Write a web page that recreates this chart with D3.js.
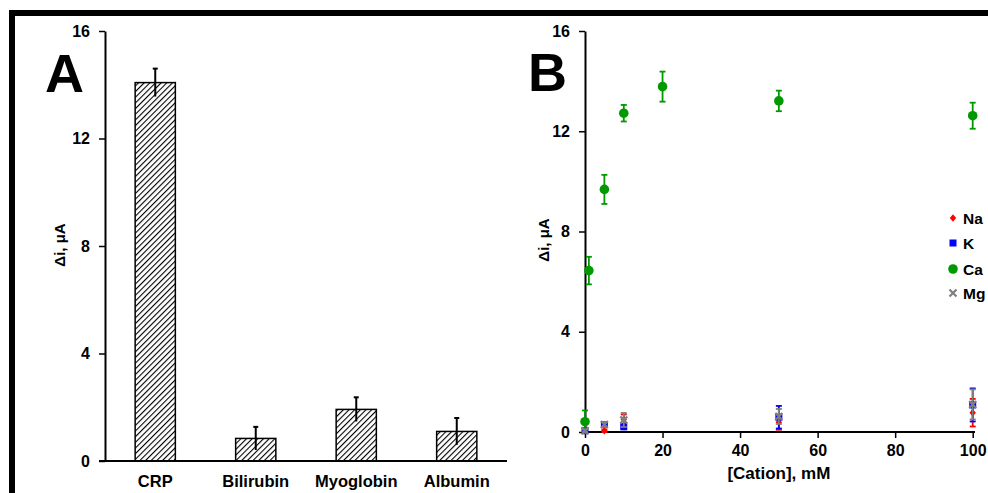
<!DOCTYPE html>
<html><head><meta charset="utf-8">
<script src="https://cdn.jsdelivr.net/npm/d3@7"></script>
<style>
html,body{margin:0;padding:0;background:#fff;}
svg{display:block;font-family:"Liberation Sans",Arial,sans-serif;font-weight:bold;}
</style></head>
<body>
<svg id="chart" width="988" height="493"></svg>
<script>
// ---- Panel A data ----
const categories = ["CRP", "Bilirubin", "Myoglobin", "Albumin"];
const barValues = [14.08, 0.84, 1.92, 1.10];
const barErrors = [0.52, 0.43, 0.45, 0.50];
const yTicksA = [0, 4, 8, 12, 16];

// ---- Panel B data ----
const cations = ["Na", "K", "Ca", "Mg"];
const cationColors = ["#ff0000", "#0000ff", "#009900", "#7f7f7f"];
const concNa = [0, 5, 10, 50, 100];
const valNa = [0.05, 0.05, 0.50, 0.39, 0.77];
const errNa = [0.05, 0.05, 0.2, 0.3, 0.55];
const concK = [0, 5, 10, 50, 100];
const valK = [0.05, 0.30, 0.21, 0.59, 1.08];
const errK = [0.05, 0.1, 0.1, 0.45, 0.66];
const concCa = [0, 1, 5, 10, 20, 50, 100];
const valCa = [0.41, 6.44, 9.68, 12.72, 13.78, 13.21, 12.62];
const errCa = [0.45, 0.55, 0.58, 0.33, 0.60, 0.41, 0.52];
const concMg = [0, 5, 10, 50, 100];
const valMg = [0.05, 0.30, 0.48, 0.62, 1.10];
const errMg = [0.05, 0.1, 0.28, 0.3, 0.6];
const xTicksB = [0, 20, 40, 60, 80, 100];
const yTicksB = [0, 4, 8, 12, 16];

const svg = d3.select("#chart");

// Hatch pattern
const defs = svg.append("defs");
defs.append("pattern").attr("id", "hatch").attr("patternUnits", "userSpaceOnUse")
  .attr("width", 4).attr("height", 4).attr("patternTransform", "rotate(45)")
  .call(p => {
    p.append("rect").attr("width", 4).attr("height", 4).attr("fill", "#fff");
    p.append("line").attr("x1", 0).attr("y1", 0).attr("x2", 0).attr("y2", 4)
      .attr("stroke", "#000").attr("stroke-width", 2.2);
  });

// Frame
svg.append("path").attr("d", "M12,493 L12,13 L988,13").attr("fill", "none")
  .attr("stroke", "#000").attr("stroke-width", 6);

function styleAxis(g) {
  g.selectAll("path.domain").attr("stroke", "#000").attr("stroke-width", 2);
  g.selectAll(".tick line").attr("stroke", "#000").attr("stroke-width", 1.5);
  g.selectAll(".tick text").attr("fill", "#000").attr("font-size", 16).attr("font-weight", "bold")
    .attr("font-family", "Liberation Sans, Arial, sans-serif");
}

// ===== Panel A =====
const xA = d3.scaleBand().domain(categories).range([105, 507]).paddingInner(0.6).paddingOuter(0.3);
const yA = d3.scaleLinear().domain([0, 16]).range([461, 31]);

const gA = svg.append("g");
gA.selectAll("rect.bar").data(categories).join("rect").attr("class", "bar")
  .attr("x", d => xA(d)).attr("width", xA.bandwidth())
  .attr("y", (d, i) => yA(barValues[i])).attr("height", (d, i) => yA(0) - yA(barValues[i]))
  .attr("fill", "url(#hatch)").attr("stroke", "#000").attr("stroke-width", 1.5);

const ebA = gA.selectAll("g.eb").data(categories).join("g").attr("class", "eb");
ebA.append("line")
  .attr("x1", d => xA(d) + xA.bandwidth() / 2).attr("x2", d => xA(d) + xA.bandwidth() / 2)
  .attr("y1", (d, i) => yA(barValues[i] + barErrors[i])).attr("y2", (d, i) => yA(barValues[i] - barErrors[i]))
  .attr("stroke", "#000").attr("stroke-width", 2);
ebA.append("line")
  .attr("x1", d => xA(d) + xA.bandwidth() / 2 - 2.5).attr("x2", d => xA(d) + xA.bandwidth() / 2 + 2.5)
  .attr("y1", (d, i) => yA(barValues[i] + barErrors[i])).attr("y2", (d, i) => yA(barValues[i] + barErrors[i]))
  .attr("stroke", "#000").attr("stroke-width", 2);

const yAxisA = svg.append("g").attr("transform", "translate(105,0)")
  .call(d3.axisLeft(yA).tickValues(yTicksA).tickSize(6).tickPadding(9).tickSizeOuter(0));
styleAxis(yAxisA);

svg.append("line").attr("x1", 99).attr("x2", 507).attr("y1", yA(0)).attr("y2", yA(0))
  .attr("stroke", "#000").attr("stroke-width", 2);

svg.selectAll("text.cat").data(categories).join("text").attr("class", "cat")
  .attr("x", d => xA(d) + xA.bandwidth() / 2).attr("y", 487)
  .attr("text-anchor", "middle").attr("font-size", 16.5).text(d => d);

svg.append("text").attr("transform", "translate(65,245) rotate(-90)")
  .attr("text-anchor", "middle").attr("font-size", 15).text("Δi, μA");

svg.append("text").attr("x", 45).attr("y", 92).attr("font-size", 54).text("A");

// ===== Panel B =====
const xB = d3.scaleLinear().domain([0, 100]).range([585, 972.7]);
const yB = d3.scaleLinear().domain([0, 16]).range([432, 31]);

const yAxisB = svg.append("g").attr("transform", "translate(585,0)")
  .call(d3.axisLeft(yB).tickValues(yTicksB).tickSize(6).tickPadding(9).tickSizeOuter(0));
styleAxis(yAxisB);
const xAxisB = svg.append("g").attr("transform", "translate(0,432)")
  .call(d3.axisBottom(xB).tickValues(xTicksB).tickSize(6).tickPadding(7).tickSizeOuter(0));
styleAxis(xAxisB);
xAxisB.select("path.domain").attr("d", "M585,0H975");

svg.append("text").attr("x", (xB(0) + xB(100)) / 2).attr("y", 479)
  .attr("text-anchor", "middle").attr("font-size", 17).text("[Cation], mM");
svg.append("text").attr("transform", "translate(549,240) rotate(-90)")
  .attr("text-anchor", "middle").attr("font-size", 15).text("Δi, μA");
svg.append("text").attr("x", 528).attr("y", 91).attr("font-size", 54).text("B");

const seriesB = [
  {name: "Na", conc: concNa, val: valNa, err: errNa, color: cationColors[0], shape: "diamond"},
  {name: "K", conc: concK, val: valK, err: errK, color: cationColors[1], shape: "square"},
  {name: "Ca", conc: concCa, val: valCa, err: errCa, color: cationColors[2], shape: "circle"},
  {name: "Mg", conc: concMg, val: valMg, err: errMg, color: cationColors[3], shape: "cross"}
];

function marker(g, shape, color, x, y) {
  if (shape === "circle") {
    g.append("circle").attr("cx", x).attr("cy", y).attr("r", 4.8).attr("fill", color);
  } else if (shape === "square") {
    g.append("rect").attr("x", x - 3.5).attr("y", y - 3.5).attr("width", 7).attr("height", 7).attr("fill", color);
  } else if (shape === "diamond") {
    g.append("path").attr("d", `M${x},${y - 3.8}L${x + 3.2},${y}L${x},${y + 3.8}L${x - 3.2},${y}Z`).attr("fill", color);
  } else {
    g.append("path").attr("d", `M${x - 3.5},${y - 3.5}L${x + 3.5},${y + 3.5}M${x + 3.5},${y - 3.5}L${x - 3.5},${y + 3.5}`)
      .attr("stroke", color).attr("stroke-width", 2.2);
  }
}

seriesB.forEach(s => {
  const g = svg.append("g");
  s.conc.forEach((c, i) => {
    const x = xB(c), y = yB(s.val[i]);
    const y1 = yB(s.val[i] + s.err[i]), y2 = yB(s.val[i] - s.err[i]);
    g.append("line").attr("x1", x).attr("x2", x).attr("y1", y1).attr("y2", y2)
      .attr("stroke", s.color).attr("stroke-width", 1.8);
    [y1, y2].forEach(yy => g.append("line").attr("x1", x - 3).attr("x2", x + 3).attr("y1", yy).attr("y2", yy)
      .attr("stroke", s.color).attr("stroke-width", 1.8));
    marker(g, s.shape, s.color, x, y);
  });
});

// Legend
const legY = [218, 243, 269, 293];
seriesB.forEach((s, i) => {
  const g = svg.append("g");
  marker(g, s.shape, s.color, 953, legY[i]);
  g.append("text").attr("x", 963).attr("y", legY[i] + 5.5).attr("font-size", 15.5).text(s.name);
});
</script>
</body></html>
